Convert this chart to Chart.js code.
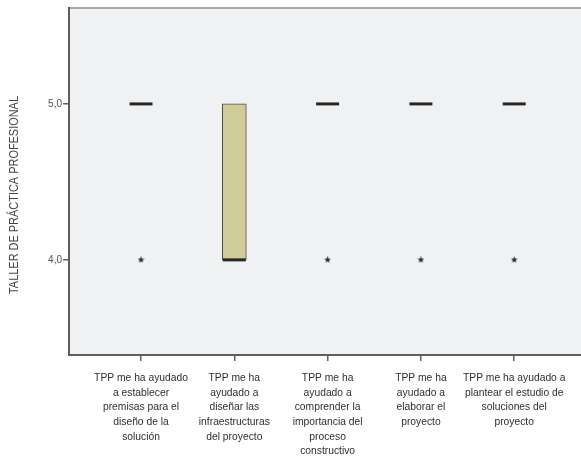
<!DOCTYPE html>
<html>
<head>
<meta charset="utf-8">
<script src="https://cdn.jsdelivr.net/npm/chart.js@4/dist/chart.umd.min.js"></script>
<style>
  html, body { margin: 0; padding: 0; background: #ffffff; }
  #wrap { width: 581px; height: 459px; }
</style>
</head>
<body>
<div id="wrap"><canvas id="c" width="581" height="459"></canvas></div>
<script>
// Survey items (x-axis categories), each split into display lines
const categories = [
  ["TPP me ha ayudado", "a establecer", "premisas para el", "diseño de la", "solución"],
  ["TPP me ha", "ayudado a", "diseñar las", "infraestructuras", "del proyecto"],
  ["TPP me ha", "ayudado a", "comprender la", "importancia del", "proceso", "constructivo"],
  ["TPP me ha", "ayudado a", "elaborar el", "proyecto"],
  ["TPP me ha ayudado a", "plantear el estudio de", "soluciones del", "proyecto"]
];

// Box statistics per item
const q1 = [5, 4, 5, 5, 5];
const q3 = [5, 5, 5, 5, 5];
const medians = [5, 4, 5, 5, 5];
// Extreme values (drawn as stars)
const extremes = [[4], [], [4], [4], [4]];

// Y tick values
const yTicks = [4, 5];
const yTitle = "TALLER DE PRÁCTICA PROFESIONAL";

// Small filled star used as the extreme-value marker
function makeStar(size, color) {
  const cv = document.createElement('canvas');
  cv.width = size; cv.height = size;
  const g = cv.getContext('2d');
  const cx = size / 2, cy = size / 2, R = size / 2, r = R * 0.45;
  g.beginPath();
  for (let i = 0; i < 10; i++) {
    const rad = (i % 2 === 0) ? R : r;
    const a = -Math.PI / 2 + i * Math.PI / 5;
    const px = cx + rad * Math.cos(a), py = cy + rad * Math.sin(a);
    if (i === 0) g.moveTo(px, py); else g.lineTo(px, py);
  }
  g.closePath();
  g.fillStyle = color;
  g.fill();
  return cv;
}
const starImg = makeStar(7, '#2a2a2a');

const boxData = [];
q1.forEach((lo, i) => {
  if (q3[i] > lo) boxData.push({ x: i + 1, y: [lo, q3[i]] });
});
const medianData = medians.map((m, i) => ({ x: i + 1, y: m }));
const extremeData = [];
extremes.forEach((arr, i) => arr.forEach(v => extremeData.push({ x: i + 1, y: v })));

// Plot-area background and frame
const framePlugin = {
  id: 'frame',
  beforeDatasetsDraw(chart) {
    const { ctx, chartArea: a } = chart;
    ctx.save();
    ctx.fillStyle = '#f0f1f3';
    ctx.fillRect(a.left, a.top, a.right - a.left, a.bottom - a.top);
    ctx.restore();
  },
  afterDatasetsDraw(chart) {
    const { ctx, chartArea: a } = chart;
    ctx.save();
    ctx.lineWidth = 2;
    ctx.strokeStyle = '#a9a9a9';
    ctx.beginPath();
    ctx.moveTo(a.left, a.top);
    ctx.lineTo(a.right, a.top);
    ctx.stroke();
    ctx.strokeStyle = '#5f5f5f';
    ctx.beginPath();
    ctx.moveTo(a.left, a.top - 1);
    ctx.lineTo(a.left, a.bottom);
    ctx.lineTo(a.right, a.bottom);
    ctx.stroke();
    ctx.restore();
  },
  afterDraw(chart) {
    // Rotated y-axis title
    const { ctx } = chart;
    ctx.save();
    ctx.translate(15, 195);
    ctx.rotate(-Math.PI / 2);
    ctx.font = '12px "Liberation Sans", Arial, sans-serif';
    const w = ctx.measureText(yTitle).width;
    const target = 198;
    ctx.scale(target / w, 1);
    ctx.fillStyle = '#454545';
    ctx.textAlign = 'center';
    ctx.textBaseline = 'middle';
    ctx.fillText(yTitle, 0, 0);
    ctx.restore();
  }
};

new Chart(document.getElementById('c'), {
  type: 'bar',
  data: {
    datasets: [
      {
        type: 'bar',
        label: 'box',
        data: boxData,
        backgroundColor: '#cfcc98',
        borderColor: '#4e4e4e',
        borderWidth: 1,
        borderSkipped: false,
        barThickness: 24,
        order: 3
      },
      {
        type: 'scatter',
        label: 'median',
        data: medianData,
        pointStyle: 'line',
        radius: 11.5,
        hoverRadius: 11.5,
        borderWidth: 3,
        borderColor: '#262626',
        order: 2
      },
      {
        type: 'scatter',
        label: 'extreme',
        data: extremeData,
        pointStyle: starImg,
        radius: 4,
        hoverRadius: 4,
        order: 1
      }
    ]
  },
  options: {
    responsive: false,
    animation: false,
    events: [],
    layout: { autoPadding: false, padding: { top: 8, right: 0, left: 0, bottom: 0 } },
    plugins: { legend: { display: false }, tooltip: { enabled: false } },
    scales: {
      x: {
        type: 'linear',
        offset: false,
        min: 0.228,
        max: 5.716,
        afterBuildTicks(scale) { scale.ticks = categories.map((_, i) => ({ value: i + 1 })); },
        afterFit(scale) {
          scale.height = 104;
          scale.paddingLeft = 0;
          scale.paddingRight = 0;
        },
        border: { display: false },
        grid: { offset: false, drawOnChartArea: false, tickLength: 6, tickColor: '#5f5f5f', lineWidth: 1.5 },
        ticks: {
          autoSkip: false,
          maxRotation: 0,
          padding: 10,
          color: '#2e2e2e',
          font: { family: '"Liberation Sans", Arial, sans-serif', size: 10.3, lineHeight: 1.42 },
          callback: (v) => categories[v - 1] || ''
        }
      },
      y: {
        type: 'linear',
        min: 3.39,
        max: 5.615,
        afterBuildTicks(scale) { scale.ticks = yTicks.map(v => ({ value: v })); },
        afterFit(scale) { scale.width = 69; },
        border: { display: false },
        grid: { drawOnChartArea: false, tickLength: 6, tickColor: '#5f5f5f', lineWidth: 1.5 },
        ticks: {
          padding: 1,
          color: '#555555',
          font: { family: '"Liberation Sans", Arial, sans-serif', size: 10 },
          callback: (v) => v.toFixed(1).replace('.', ',')
        }
      }
    }
  },
  plugins: [framePlugin]
});
</script>
</body>
</html>
